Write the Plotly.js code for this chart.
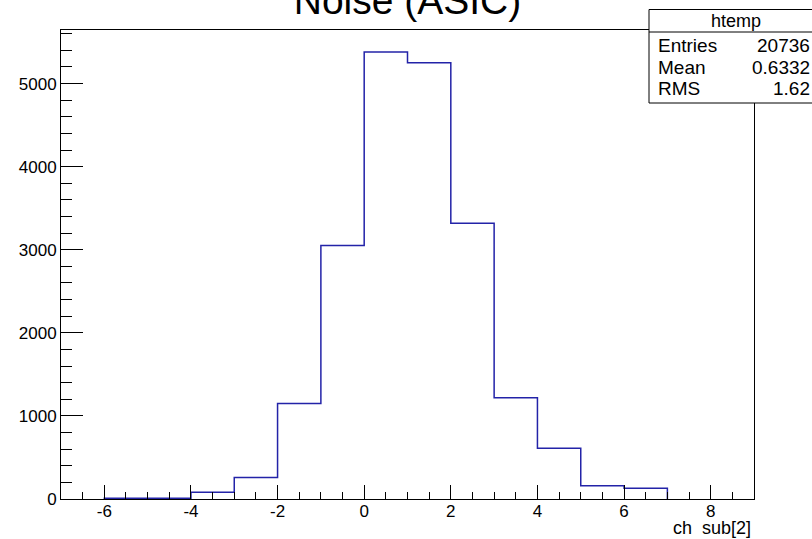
<!DOCTYPE html>
<html>
<head>
<meta charset="utf-8">
<script src="https://cdn.plot.ly/plotly-3.0.1.min.js"></script>
<style>html,body{margin:0;padding:0;background:#fff;}#chart{width:812px;height:539px;}</style>
</head>
<body>
<div id="chart"></div>
<script>
// Histogram bins (lower edges, width 1) and counts
const binLowEdges = [-6, -5, -4, -3, -2, -1, 0, 1, 2, 3, 4, 5, 6];
const binWidth = 1;
const counts = [8, 10, 80, 260, 1150, 3050, 5380, 5250, 3320, 1220, 610, 160, 130];

const xTickVals = [-6, -4, -2, 0, 2, 4, 6, 8];
const xTickLabels = ["-6", "-4", "-2", "0", "2", "4", "6", "8"];
const yTickVals = [0, 1000, 2000, 3000, 4000, 5000];
const yTickLabels = ["0", "1000", "2000", "3000", "4000", "5000"];

const titleText = "Noise (ASIC)";
const xAxisLabel = "ch\u00a0\u00a0sub[2]";
const statsName = "htemp";
const statsLabels = ["Entries", "Mean", "RMS"];
const statsValues = ["20736", "0.6332", "1.62"];

// Build step outline (ROOT-style) from the bins
const xs = [binLowEdges[0]];
const ys = [0];
for (let i = 0; i < counts.length; i++) { xs.push(binLowEdges[i]); ys.push(counts[i]); }
xs.push(binLowEdges[binLowEdges.length - 1] + binWidth); ys.push(0);

const FONT = "Liberation Sans, Arial, sans-serif";
const W = 812, H = 539;
const mL = 61, mR = 58, mT = 30, mB = 40;
const pw = W - mL - mR, ph = H - mT - mB;
const px = v => (v - mL) / pw;          // pixel x -> paper
const py = v => (H - mB - v) / ph;      // pixel y -> paper

const trace = {
  type: "scatter", mode: "lines", x: xs, y: ys,
  line: { shape: "hv", color: "#2323a8", width: 1.5 },
  hoverinfo: "x+y", showlegend: false
};

const annotations = [
  { text: xAxisLabel, xref: "paper", yref: "paper", x: px(753), y: py(528),
    xanchor: "right", yanchor: "middle", showarrow: false, font: { family: FONT, size: 18, color: "#000" } },
  { text: statsName, xref: "paper", yref: "paper", x: px(736), y: py(21),
    xanchor: "center", yanchor: "middle", showarrow: false, font: { family: FONT, size: 18, color: "#000" } }
];
const rowY = [45, 67, 89];
statsLabels.forEach((lab, i) => {
  annotations.push({ text: lab, xref: "paper", yref: "paper", x: px(656), y: py(rowY[i]),
    xanchor: "left", yanchor: "middle", showarrow: false, font: { family: FONT, size: 19, color: "#000" } });
  annotations.push({ text: statsValues[i], xref: "paper", yref: "paper", x: px(812), y: py(rowY[i]),
    xanchor: "right", yanchor: "middle", showarrow: false, font: { family: FONT, size: 19, color: "#000" } });
});

const shapes = [
  { type: "rect", xref: "paper", yref: "paper", x0: px(649), x1: px(830), y0: py(103), y1: py(9.5),
    line: { color: "#000", width: 1 }, fillcolor: "#fff", layer: "above" },
  { type: "line", xref: "paper", yref: "paper", x0: px(649), x1: px(830), y0: py(32), y1: py(32),
    line: { color: "#000", width: 1 }, layer: "above" }
];

const layout = {
  width: W, height: H,
  margin: { l: mL, r: mR, t: mT, b: mB, pad: 0 },
  paper_bgcolor: "#fff", plot_bgcolor: "#fff",
  font: { family: FONT, color: "#000" },
  title: { text: titleText, font: { family: FONT, size: 39, color: "#000" },
           x: 0.5, xanchor: "center", xref: "paper", y: 1 - 18 / H, yref: "container", yanchor: "bottom",
           pad: { b: 4 } },
  xaxis: {
    range: [-7, 9], tickmode: "array", tickvals: xTickVals, ticktext: xTickLabels,
    ticks: "inside", ticklen: 14, tickwidth: 1, tickcolor: "#000", ticklabelstandoff: -3,
    showline: true, linecolor: "#000", linewidth: 1, mirror: true, showgrid: false, zeroline: false,
    tickfont: { family: FONT, size: 17, color: "#000" },
    minor: { dtick: 0.5, tick0: 0, ticks: "inside", ticklen: 7, tickcolor: "#000", tickwidth: 1, showgrid: false }
  },
  yaxis: {
    range: [0, 5645], tickmode: "array", tickvals: yTickVals, ticktext: yTickLabels,
    ticks: "inside", ticklen: 22, tickwidth: 1, tickcolor: "#000",
    showline: true, linecolor: "#000", linewidth: 1, mirror: true, showgrid: false, zeroline: false,
    tickfont: { family: FONT, size: 17, color: "#000" },
    minor: { dtick: 200, tick0: 0, ticks: "inside", ticklen: 11, tickcolor: "#000", tickwidth: 1, showgrid: false }
  },
  annotations: annotations,
  shapes: shapes
};

Plotly.newPlot("chart", [trace], layout, { displayModeBar: false, staticPlot: true });
</script>
</body>
</html>
